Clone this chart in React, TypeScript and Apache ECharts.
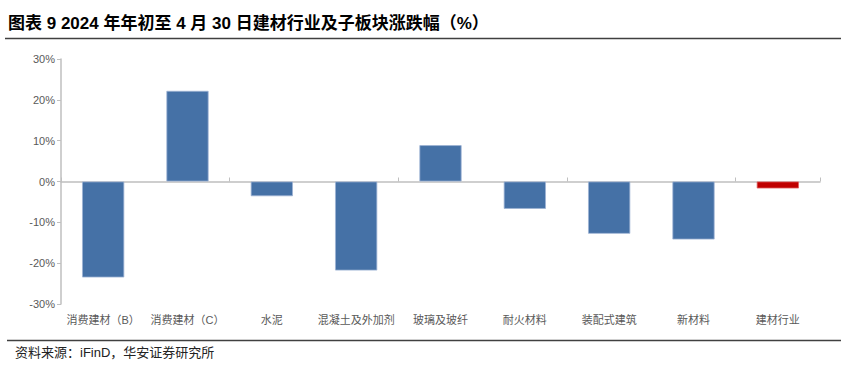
import React, { useEffect, useRef } from "react";
import * as echarts from "echarts";

const categories = ["消费建材（B）", "消费建材（C）", "水泥", "混凝土及外加剂", "玻璃及玻纤", "耐火材料", "装配式建筑", "新材料", "建材行业"];
const values = [-23.5, 22.2, -3.6, -21.8, 8.9, -6.7, -12.8, -14.2, -1.7];
const highlightCategory = "建材行业";
const yTicks = { min: -30, max: 30, interval: 10 };
const titleText = "图表 9 2024 年年初至 4 月 30 日建材行业及子板块涨跌幅（%）";
const sourceText = "资料来源：iFinD，华安证券研究所";

export default function App() {
  const ref = useRef<HTMLDivElement>(null);
  useEffect(() => {
    if (!ref.current) return;
    const chart = echarts.init(ref.current, null, { renderer: "svg" });
    const cjk = "'Liberation Sans', 'Noto Sans CJK SC', sans-serif";
    chart.setOption({
      animation: false,
      grid: { left: 61, right: 32, top: 59, bottom: 72 },
      xAxis: [
        {
          type: "category",
          data: categories,
          axisLine: { onZero: true, lineStyle: { color: "#bfbfbf", width: 1.5 } },
          axisTick: { show: true, inside: true, length: 4, lineStyle: { color: "#bfbfbf" } },
          axisLabel: { show: false },
        },
        {
          type: "category",
          data: categories,
          position: "bottom",
          axisLine: { show: false, onZero: false },
          axisTick: { show: false },
          axisLabel: { show: true, margin: 10, color: "#595959", fontSize: 11, fontFamily: cjk, interval: 0 },
        },
      ],
      yAxis: {
        type: "value",
        min: yTicks.min,
        max: yTicks.max,
        interval: yTicks.interval,
        axisLine: { show: true, lineStyle: { color: "#bfbfbf", width: 1.5 } },
        axisTick: { show: true, length: 4, lineStyle: { color: "#bfbfbf" } },
        splitLine: { show: false },
        axisLabel: {
          color: "#595959",
          fontSize: 11,
          fontFamily: "'Liberation Sans', Arial, sans-serif",
          margin: 6,
          formatter: (v: number) => `${v}%`,
        },
      },
      series: [
        {
          type: "bar",
          xAxisIndex: 0,
          barWidth: "50%",
          data: values.map((v, i) => ({
            value: v,
            itemStyle: {
              color: categories[i] === highlightCategory ? "#c00000" : "#4571a6",
              borderColor: categories[i] === highlightCategory ? "#e06060" : "#9db3d3",
              borderWidth: 0.8,
            },
          })),
        },
      ],
      graphic: [
        {
          type: "text",
          left: 8,
          top: 15,
          style: { text: titleText, font: "bold 17px 'Liberation Sans', 'Noto Sans CJK SC', sans-serif", fill: "#000" },
        },
        { type: "line", shape: { x1: 5, y1: 38.5, x2: 841, y2: 38.5 }, style: { stroke: "#404040", lineWidth: 1.5 } },
        { type: "line", shape: { x1: 7, y1: 340.5, x2: 841, y2: 340.5 }, style: { stroke: "#404040", lineWidth: 1.5 } },
        {
          type: "text",
          left: 15,
          top: 346,
          style: { text: sourceText, font: "13px 'Liberation Sans', 'Noto Sans CJK SC', sans-serif", fill: "#222" },
        },
      ],
    });
    return () => chart.dispose();
  }, []);
  return (
    <div
      ref={ref}
      style={{ position: "fixed", left: 0, top: 0, width: 852, height: 376, background: "#fff" }}
    />
  );
}
